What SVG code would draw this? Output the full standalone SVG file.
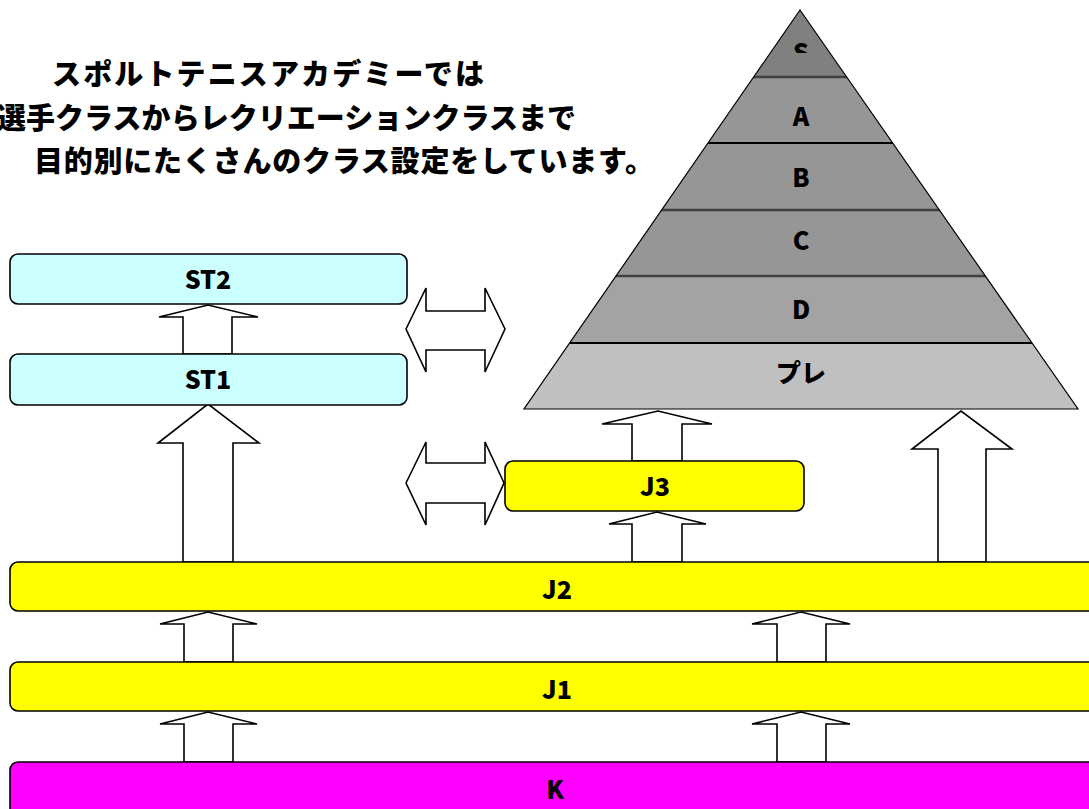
<svg xmlns="http://www.w3.org/2000/svg" width="1089" height="809" viewBox="0 0 1089 809">
<style>
.t{font-family:"Noto Sans CJK JP","Noto Sans",sans-serif;font-weight:900;fill:#000}
.lbl{font-family:"Noto Sans CJK JP","Noto Sans",sans-serif;font-weight:900;font-size:25px;text-anchor:middle;fill:#000}
.box{stroke:#000;stroke-width:1.6}
.cyan{fill:#ccffff}
.yel{fill:#ffff00}
.mag{fill:#ff00ff}
.arr{fill:#fff;stroke:#000;stroke-width:1.6;stroke-linejoin:miter}
.sep1{stroke:#404040;stroke-width:2.5}
.sep2{stroke:#000;stroke-width:2}
</style>
<defs>
<clipPath id="tri"><polygon points="800,10 1078,409 524,409"/></clipPath>
<clipPath id="sclip"><rect x="780" y="30" width="40" height="23"/></clipPath>
</defs>
<rect width="1089" height="809" fill="#fff"/>

<g id="title">
<text class="t" x="52" y="85" font-size="29" textLength="432">スポルトテニスアカデミーでは</text>
<text class="t" x="-3" y="129" font-size="29" textLength="579">選手クラスからレクリエーションクラスまで</text>
<text class="t" x="34" y="172" font-size="29" textLength="620">目的別にたくさんのクラス設定をしています。</text>
</g>

<g id="pyramid">
<g clip-path="url(#tri)">
<rect x="500" y="0" width="600" height="77" fill="#808080"/>
<rect x="500" y="77" width="600" height="66" fill="#969696"/>
<rect x="500" y="143" width="600" height="67" fill="#969696"/>
<rect x="500" y="210" width="600" height="66" fill="#969696"/>
<rect x="500" y="276" width="600" height="67" fill="#a3a3a3"/>
<rect x="500" y="343" width="600" height="70" fill="#c0c0c0"/>
<line class="sep1" x1="500" y1="77" x2="1100" y2="77"/>
<line class="sep2" x1="500" y1="143" x2="1100" y2="143"/>
<line class="sep1" x1="500" y1="210" x2="1100" y2="210"/>
<line class="sep1" x1="500" y1="276" x2="1100" y2="276"/>
<line class="sep2" x1="500" y1="343" x2="1100" y2="343"/>
</g>
<polygon points="800,10 1078,409 524,409" fill="none" stroke="#000" stroke-width="1.2"/>
<text class="lbl" x="801" y="62" clip-path="url(#sclip)">S</text>
<text class="lbl" x="801" y="126">A</text>
<text class="lbl" x="801" y="187">B</text>
<text class="lbl" x="801" y="250">C</text>
<text class="lbl" x="801" y="319">D</text>
<text class="lbl" x="801" y="382">プレ</text>
</g>

<g id="connectors">
<path class="arr" d="M183,354 L183,317 L159,317 L208,305 L258,317 L232,317 L232,354 Z"/>
<path class="arr" d="M183,562 L183,443 L158,443 L208,404 L259,443 L233,443 L233,562 Z"/>
<path class="arr" d="M406,329 L426,288 L426,311 L485,311 L485,288 L505,329 L485,372 L485,350 L426,350 L426,372 Z"/>
<path class="arr" d="M406,483 L426,442 L426,463 L485,463 L485,442 L504,483 L485,525 L485,503 L426,503 L426,525 Z"/>
<path class="arr" d="M632,461 L632,424 L602,424 L658,411 L712,424 L682,424 L682,461 Z"/>
<path class="arr" d="M632,562 L632,524 L609,524 L657,512 L706,524 L682,524 L682,562 Z"/>
<path class="arr" d="M938,562 L938,449 L912,449 L961,411 L1012,449 L986,449 L986,562 Z"/>
<path class="arr" d="M184,662 L184,624 L160,624 L208,612 L257,624 L233,624 L233,662 Z"/>
<path class="arr" d="M777,662 L777,624 L752,624 L801,612 L850,624 L826,624 L826,662 Z"/>
<path class="arr" d="M184,762 L184,724 L160,724 L208,712 L257,724 L233,724 L233,762 Z"/>
<path class="arr" d="M777,762 L777,724 L752,724 L801,712 L850,724 L826,724 L826,762 Z"/>
</g>

<g id="ST2">
<rect class="box cyan" x="10" y="254" width="397" height="50" rx="8"/>
<text class="lbl" x="208" y="289">ST2</text>
</g>
<g id="ST1">
<rect class="box cyan" x="10" y="354" width="397" height="51" rx="8"/>
<text class="lbl" x="208" y="389">ST1</text>
</g>
<g id="J3">
<rect class="box yel" x="505" y="461" width="299" height="50" rx="8"/>
<text class="lbl" x="655" y="496">J3</text>
</g>
<g id="J2">
<rect class="box yel" x="10" y="562" width="1100" height="49" rx="8"/>
<text class="lbl" x="557" y="599">J2</text>
</g>
<g id="J1">
<rect class="box yel" x="10" y="662" width="1100" height="49" rx="8"/>
<text class="lbl" x="557" y="699">J1</text>
</g>
<g id="K">
<rect class="box mag" x="10" y="762" width="1100" height="70" rx="8"/>
<text class="lbl" x="555" y="799">K</text>
</g>
</svg>
